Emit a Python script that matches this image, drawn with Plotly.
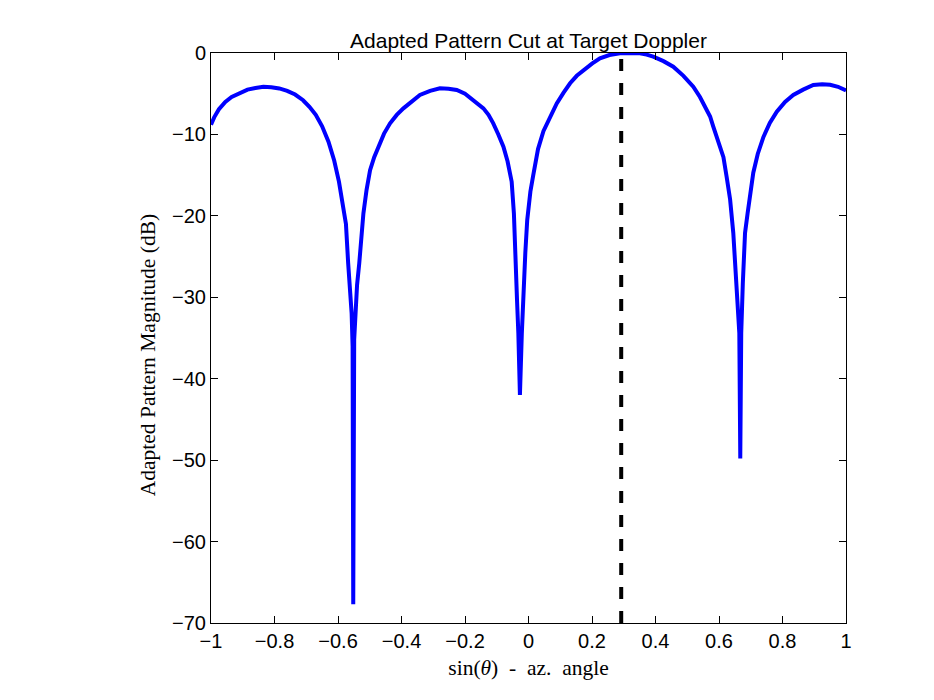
import plotly.graph_objects as go

# sin(theta) sample positions and adapted pattern magnitude (dB)
sin_theta = [-1.000, -0.990, -0.975, -0.955, -0.935, -0.910, -0.885, -0.860, -0.835, -0.810,
             -0.785, -0.760, -0.735, -0.710, -0.690, -0.670, -0.650, -0.630, -0.612, -0.597,
             -0.585, -0.575, -0.568, -0.562, -0.557, -0.554, -0.552, -0.549, -0.545, -0.540,
             -0.533, -0.527, -0.520, -0.510, -0.499, -0.486, -0.473, -0.455, -0.436, -0.415,
             -0.394, -0.368, -0.342, -0.310, -0.279, -0.252, -0.226, -0.200, -0.174, -0.158,
             -0.142, -0.126, -0.111, -0.095, -0.079, -0.066, -0.053, -0.046, -0.043, -0.036,
             -0.032, -0.027, -0.021, -0.016, -0.010, -0.004, 0.006, 0.015, 0.030, 0.047,
             0.068, 0.089, 0.110, 0.131, 0.152, 0.173, 0.200, 0.225, 0.255, 0.288,
             0.320, 0.351, 0.372, 0.393, 0.425, 0.456, 0.488, 0.519, 0.540, 0.557,
             0.572, 0.582, 0.598, 0.614, 0.624, 0.635, 0.645, 0.655, 0.664, 0.667,
             0.670, 0.675, 0.682, 0.690, 0.698, 0.708, 0.722, 0.740, 0.760, 0.782,
             0.808, 0.834, 0.865, 0.897, 0.925, 0.950, 0.975, 1.000]
pattern_db = [-8.8, -7.9, -6.9, -6.0, -5.4, -4.9, -4.5, -4.3, -4.15, -4.2,
              -4.35, -4.65, -5.1, -5.8, -6.6, -7.6, -9.0, -10.9, -13.2, -15.8,
              -18.3, -21.0, -25.8, -29.0, -32.0, -36.0, -67.7, -35.2, -31.0, -28.5,
              -25.8, -22.5, -19.7, -16.8, -14.4, -12.8, -11.5, -9.9, -8.64, -7.6,
              -6.8, -5.9, -5.16, -4.65, -4.34, -4.38, -4.54, -5.0, -5.77, -6.2,
              -6.8, -7.6, -8.64, -10.0, -11.5, -13.3, -15.8, -19.7, -24.0, -30.5,
              -34.4, -42.0, -34.4, -28.3, -24.5, -20.5, -17.0, -15.0, -11.8, -9.6,
              -7.8, -6.2, -4.9, -3.72, -2.8, -2.09, -1.3, -0.65, -0.25, -0.04,
              0.0, -0.04, -0.2, -0.45, -1.0, -1.68, -2.8, -4.13, -5.4, -6.6,
              -7.8, -9.05, -11.0, -12.8, -15.2, -18.0, -22.1, -28.3, -34.4, -49.8,
              -34.4, -28.3, -22.1, -19.7, -17.3, -14.7, -12.4, -10.3, -8.6, -7.2,
              -6.0, -5.16, -4.5, -3.93, -3.85, -3.9, -4.15, -4.6]

target_sin = 0.292
y_range = [-70, 0]
x_ticks = [-1, -0.8, -0.6, -0.4, -0.2, 0, 0.2, 0.4, 0.6, 0.8, 1]
y_ticks = [-70, -60, -50, -40, -30, -20, -10, 0]

fig = go.Figure()
fig.add_trace(go.Scatter(x=sin_theta, y=pattern_db, mode="lines",
                         line=dict(color="#0000ff", width=4), showlegend=False))
fig.add_trace(go.Scatter(x=[target_sin, target_sin], y=y_range, mode="lines",
                         line=dict(color="black", width=4, dash="dash"), showlegend=False))

sans = "Liberation Sans, Arial, sans-serif"
serif = "Liberation Serif, Times New Roman, serif"
tick_font = dict(family=sans, size=20, color="black")
fig.update_layout(
    width=934, height=700,
    margin=dict(l=211, r=88, t=53, b=77),
    paper_bgcolor="white", plot_bgcolor="white",
    title=dict(text="Adapted Pattern Cut at Target Doppler",
               font=dict(family=sans, size=21, color="black"),
               x=0.5, xanchor="center", xref="paper", y=1, yref="paper", yanchor="bottom",
               pad=dict(b=5)),
    xaxis=dict(range=[-1, 1], tickvals=x_ticks, ticks="inside", ticklen=7, tickwidth=1,
               tickcolor="black", showline=True, linecolor="black", linewidth=1,
               mirror="ticks", showgrid=False, zeroline=False, tickfont=tick_font,
               title=dict(text="sin(<i>θ</i>)\u00a0\u00a0-\u00a0\u00a0az.\u00a0\u00a0angle", standoff=8,
                          font=dict(family=serif, size=21.5, color="black"))),
    yaxis=dict(range=y_range, tickvals=y_ticks, ticks="inside", ticklen=7, tickwidth=1,
               tickcolor="black", showline=True, linecolor="black", linewidth=1,
               mirror="ticks", showgrid=False, zeroline=False, tickfont=tick_font),
    annotations=[dict(text="Adapted Pattern Magnitude (dB)", textangle=-90,
                      xref="paper", yref="paper", x=-0.099, y=0.47,
                      xanchor="center", yanchor="middle", showarrow=False,
                      font=dict(family=serif, size=21.5, color="black"))],
)

fig.write_html("out.html")
